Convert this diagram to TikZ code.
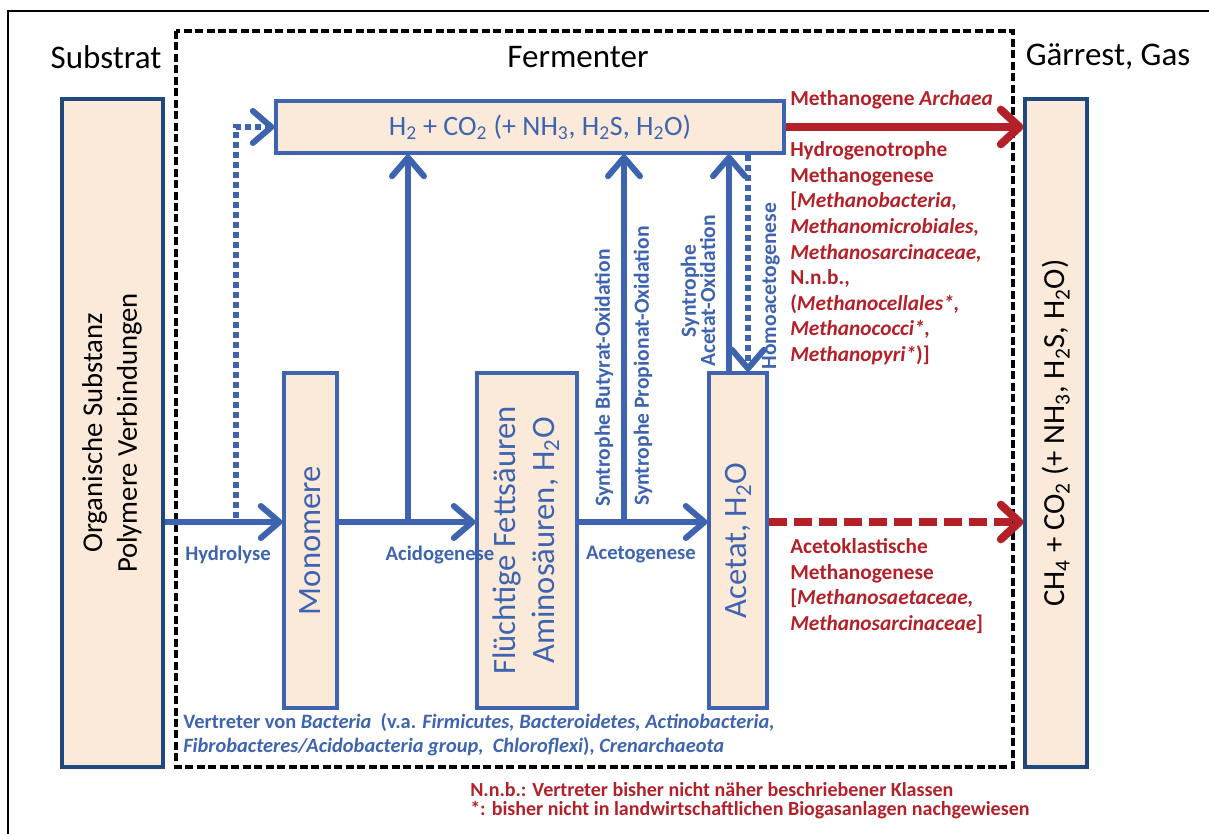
\documentclass[tikz,border=0pt]{standalone}
\usepackage{fontspec}
\setmainfont{Carlito}
\usepackage{graphicx}
\usetikzlibrary{arrows.meta,calc}
\definecolor{bluA}{RGB}{62,100,176}
\definecolor{bluD}{RGB}{31,73,125}
\definecolor{redA}{RGB}{180,32,40}
\definecolor{peach}{RGB}{251,233,218}
\begin{document}
\begin{tikzpicture}[x=0.75pt,y=-0.75pt,
  box/.style={rectangle, draw=bluA, fill=peach, line width=2.3pt, inner sep=0pt, text=bluA, font=\fontsize{24.5}{29}\selectfont},
  sbox/.style={box, draw=bluD, text=black, font=\fontsize{21.5}{26}\selectfont},
  bigt/.style={inner sep=0pt, font=\fontsize{24.75}{29}\selectfont},
  lbl/.style={inner sep=0pt, text=bluA, font=\bfseries\fontsize{15.5}{18}\selectfont},
  vrt/.style={lbl, rotate=90, font=\bfseries\fontsize{16.2}{14.5}\selectfont},
  rlbl/.style={inner sep=0pt, text=redA, align=left, font=\bfseries\fontsize{16}{19.2}\selectfont},
  vlbl/.style={inner sep=0pt, text=bluA, align=left, font=\bfseries\fontsize{15.3}{18}\selectfont},
  flbl/.style={inner sep=0pt, text=redA, align=left, font=\bfseries\fontsize{15}{14.2}\selectfont},
  flow/.style={draw=bluA, line width=4.5pt, -{Straight Barb[length=14pt,width=24pt,round]}},
  dflow/.style={flow, dash pattern=on 4.5pt off 3pt},
  mflow/.style={draw=redA, line width=6pt, -{Straight Barb[length=14pt,width=26pt,round]}},
  dmflow/.style={mflow, dash pattern=on 13.5pt off 5.25pt}
]
\useasboundingbox (0,0) rectangle (1209,834);
% outer frame and fermenter frame
\draw[line width=1.5pt] (8,834) -- (8,11) -- (1209,11);
\draw[line width=2.8pt, dash pattern=on 6pt off 2.6pt] (176,31) rectangle (1013,767);

% headings
\node[bigt] (lsub) at (106,57) {Substrat};
\node[bigt] (lferm) at (578,57) {Fermenter};
\node[bigt] (lgas) at (1108,57) {Gärrest, Gas};

% boxes
\node[sbox, minimum width=75.75pt, minimum height=501pt] (sub) at (112.5,433)
  {\rotatebox{90}{\begin{tabular}{@{}c@{}}Organische Substanz\\Polymere Verbindungen\end{tabular}}};
\node[sbox, minimum width=46.5pt, minimum height=501pt, font=\fontsize{23}{27}\selectfont] (out) at (1056,433)
  {\rotatebox{90}{CH\textsubscript{4} + CO\textsubscript{2} (+ NH\textsubscript{3}, H\textsubscript{2}S, H\textsubscript{2}O)}};
\node[box, minimum width=381pt, minimum height=39pt, font=\fontsize{21}{25}\selectfont] (h2) at (530,127)
  {\hspace*{15pt}H\textsubscript{2} + CO\textsubscript{2} (+ NH\textsubscript{3}, H\textsubscript{2}S, H\textsubscript{2}O)};
\node[box, minimum width=39.75pt, minimum height=251.25pt] (mono) at (310.5,540.5)
  {\rotatebox{90}{Monomere}};
\node[box, minimum width=75pt, minimum height=251.25pt] (fett) at (527,540.5)
  {\rotatebox{90}{\begin{tabular}{@{}c@{}}Flüchtige Fettsäuren\\Aminosäuren, H\textsubscript{2}O\end{tabular}}};
\node[box, minimum width=43.5pt, minimum height=251.25pt] (acet) at (738,540.5)
  {\rotatebox{90}{Acetat, H\textsubscript{2}O}};

% connectors
\coordinate (fy) at (0,522);
\coordinate (hsplit) at (236,518);
\coordinate (asplit) at (408,522);
\coordinate (csplit) at (624,522);
\coordinate (ao) at ($(acet.north)+(-9,0)$);
\coordinate (ho) at ($(acet.north)+(10,0)$);
\draw[flow] (sub.east |- fy) -- (mono.west |- fy);
\draw[dflow] (hsplit) |- (h2.west);
\draw[flow] (mono.east |- fy) -- (fett.west |- fy);
\draw[flow] (asplit) -- (asplit |- h2.south);
\draw[flow] (fett.east |- fy) -- (acet.west |- fy);
\draw[flow] (csplit) -- (csplit |- h2.south);
\draw[flow] (ao) -- (ao |- h2.south);
\draw[dflow] (ho |- h2.south) -- (ho);
\draw[mflow] (h2.east) -- (h2.east -| out.west);
\draw[dmflow] (acet.east |- fy) -- (out.west |- fy);

% blue labels
\node[lbl] (lhyd) at (228,555) {Hydrolyse};
\node[lbl] (lacid) at (440,555) {Acidogenese};
\node[lbl] (lacet) at (641,555) {Acetogenese};
\node[vrt] (lbut) at (604,378) {Syntrophe Butyrat-Oxidation};
\node[vrt] (lprop) at (643,366) {Syntrophe Propionat-Oxidation};
\node[vrt, align=center] (lao) at (698,291) {Syntrophe\\Acetat-Oxidation};
\node[vrt] (lhomo) at (771,286) {Homoacetogenese};

% red labels
\node[rlbl, anchor=base west] (larch) at (790,106) {Methanogene \textit{Archaea}};
\node[rlbl, anchor=north west] (lhydro) at (790,141.5) {Hydrogenotrophe\\Methanogenese\\{[}\textit{Methanobacteria,}\\\textit{Methanomicrobiales,}\\\textit{Methanosarcinaceae,}\\N.n.b.,\\(\textit{Methanocellales*,}\\\textit{Methanococci*,}\\\textit{Methanopyri*})]};
\node[rlbl, anchor=north west] (lacl) at (790,538.5) {Acetoklastische\\Methanogenese\\{[}\textit{Methanosaetaceae,}\\\textit{Methanosarcinaceae}]};

% bottom texts
\node[vlbl, anchor=north west] (lvert) at (183,713) {Vertreter von \textit{Bacteria}\ \ (v.a. \textit{Firmicutes, Bacteroidetes, Actinobacteria,}\\\textit{Fibrobacteres/Acidobacteria group,\ \ Chloroflexi}), \textit{Crenarchaeota}};
\node[flbl, anchor=north west] (lfoot) at (470,782) {N.n.b.: Vertreter bisher nicht näher beschriebener Klassen\\*: bisher nicht in landwirtschaftlichen Biogasanlagen nachgewiesen};
\end{tikzpicture}
\end{document}
